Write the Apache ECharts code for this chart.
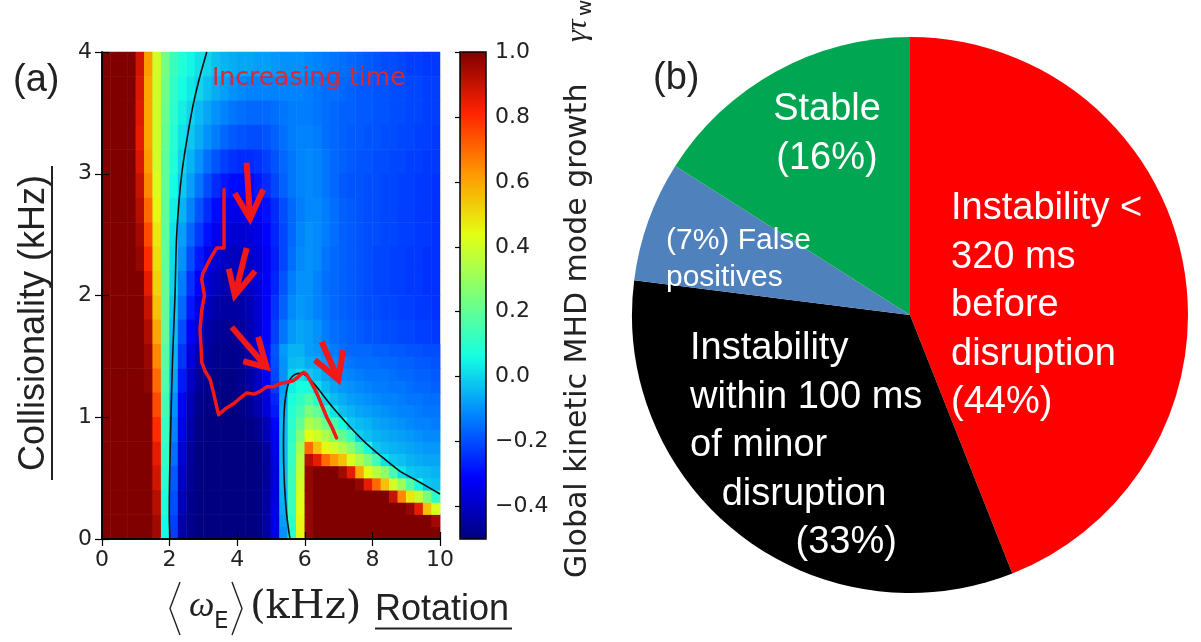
<!DOCTYPE html>
<html><head><meta charset="utf-8">
<script src="https://cdn.jsdelivr.net/npm/echarts@6/dist/echarts.min.js"></script>
<style>html,body{margin:0;padding:0;background:#fff}#c{width:1201px;height:642px}</style>
</head><body><div id="c"></div>
<script>
// ---------- Panel (a): growth-rate map ----------
const xCenters = [0.125,0.375,0.625,0.875,1.125,1.375,1.625,1.875,2.125,2.375,2.625,2.875,3.125,3.375,3.625,3.875,4.125,4.375,4.625,4.875,5.125,5.375,5.625,5.875,6.125,6.375,6.625,6.875,7.125,7.375,7.625,7.875,8.125,8.375,8.625,8.875,9.125,9.375,9.625,9.875];
const yCenters = [0.1,0.3,0.5,0.7,0.9,1.1,1.3,1.5,1.7,1.9,2.1,2.3,2.5,2.7,2.9,3.1,3.3,3.5,3.7,3.9];
// coarse map, rows listed from the top (y = 3.9) to the bottom (y = 0.1)
const gammaRows = [
 [1,1,1,1,.88,.62,.4,.24,.13,.08, .05,.02,0,-.03,-.05,-.06,-.07,-.07,-.08,-.08, -.09,-.1,-.1,-.1,-.11,-.12,-.13,-.14,-.15,-.16, -.17,-.18,-.19,-.2,-.2,-.21,-.22,-.22,-.23,-.23],
 [1,1,1,1,.87,.6,.4,.23,.11,.06, .03,0,-.03,-.06,-.08,-.1,-.11,-.12,-.12,-.12, -.12,-.12,-.12,-.12,-.13,-.14,-.15,-.15,-.16,-.17, -.18,-.18,-.19,-.19,-.2,-.2,-.21,-.21,-.22,-.22],
 [1,1,1,1,.86,.6,.4,.22,.1,.04, 0,-.04,-.07,-.1,-.12,-.14,-.15,-.16,-.16,-.16, -.15,-.14,-.13,-.13,-.13,-.14,-.15,-.16,-.17,-.17, -.18,-.18,-.19,-.19,-.2,-.2,-.21,-.21,-.22,-.22],
 [1,1,1,1,.85,.6,.4,.21,.09,.02, -.02,-.06,-.1,-.13,-.16,-.18,-.19,-.2,-.2,-.19, -.17,-.15,-.13,-.12,-.12,-.13,-.15,-.16,-.17,-.18, -.18,-.19,-.19,-.2,-.2,-.21,-.21,-.22,-.22,-.23],
 [1,1,1,1,.87,.62,.4,.2,.08,0, -.05,-.1,-.15,-.19,-.22,-.24,-.25,-.25,-.24,-.22, -.19,-.16,-.14,-.12,-.11,-.12,-.14,-.16,-.17,-.18, -.19,-.19,-.2,-.2,-.21,-.21,-.22,-.22,-.23,-.23],
 [1,1,1,1,.9,.65,.42,.2,.06,-.02, -.08,-.14,-.2,-.25,-.28,-.3,-.3,-.3,-.28,-.25, -.21,-.17,-.14,-.12,-.11,-.12,-.14,-.16,-.18,-.19, -.19,-.2,-.2,-.21,-.21,-.22,-.22,-.23,-.23,-.24],
 [1,1,1,1,.92,.7,.45,.2,.04,-.05, -.12,-.19,-.25,-.3,-.33,-.35,-.35,-.34,-.32,-.29, -.25,-.2,-.16,-.13,-.11,-.11,-.13,-.15,-.17,-.18, -.19,-.2,-.2,-.21,-.21,-.22,-.22,-.23,-.23,-.24],
 [1,1,1,1,.95,.75,.48,.2,.02,-.08, -.16,-.23,-.29,-.34,-.37,-.38,-.38,-.37,-.35,-.31, -.26,-.21,-.16,-.12,-.1,-.11,-.13,-.15,-.17,-.18, -.19,-.2,-.2,-.21,-.21,-.22,-.22,-.23,-.23,-.24],
 [1,1,1,1,.97,.8,.5,.2,.01,-.1, -.2,-.28,-.34,-.38,-.4,-.41,-.41,-.4,-.37,-.33, -.27,-.21,-.15,-.11,-.1,-.11,-.14,-.16,-.17,-.18, -.19,-.2,-.21,-.21,-.22,-.22,-.23,-.23,-.24,-.24],
 [1,1,1,1,1,.85,.52,.2,0,-.13, -.24,-.32,-.38,-.41,-.43,-.43,-.42,-.4,-.37,-.32, -.26,-.19,-.13,-.1,-.1,-.12,-.15,-.16,-.17,-.18, -.19,-.2,-.21,-.21,-.22,-.22,-.23,-.23,-.24,-.24],
 [1,1,1,1,1,.9,.55,.2,-.02,-.16, -.28,-.36,-.41,-.44,-.45,-.45,-.44,-.42,-.38,-.32, -.24,-.17,-.11,-.09,-.1,-.12,-.14,-.16,-.17,-.18, -.19,-.2,-.2,-.21,-.21,-.22,-.22,-.23,-.23,-.24],
 [1,1,1,1,1,.93,.6,.2,-.04,-.2, -.32,-.4,-.44,-.46,-.47,-.47,-.46,-.43,-.38,-.31, -.22,-.14,-.09,-.07,-.08,-.1,-.13,-.15,-.16,-.17, -.18,-.19,-.19,-.2,-.2,-.21,-.21,-.22,-.22,-.23],
 [1,1,1,1,1,.96,.65,.18,-.05,-.24, -.36,-.43,-.46,-.48,-.48,-.48,-.47,-.44,-.38,-.3, -.2,-.11,-.05,-.03,-.04,-.07,-.1,-.12,-.14,-.15, -.16,-.17,-.18,-.18,-.19,-.19,-.2,-.2,-.21,-.21],
 [1,1,1,1,1,.98,.7,.17,-.07,-.28, -.4,-.46,-.48,-.49,-.49,-.49,-.48,-.45,-.4,-.33, -.22,-.08,.03,.06,.04,-.01,-.05,-.08,-.11,-.13, -.15,-.17,-.18,-.19,-.2,-.21,-.22,-.23,-.23,-.24],
 [1,1,1,1,1,1,.75,.15,-.1,-.32, -.43,-.48,-.49,-.5,-.5,-.5,-.49,-.47,-.43,-.37, -.27,-.04,.08,.12,.17,.15,.07,-.02,-.05,-.08, -.1,-.12,-.13,-.14,-.15,-.16,-.17,-.18,-.19,-.2],
 [1,1,1,1,1,1,.8,.13,-.12,-.35, -.45,-.49,-.5,-.5,-.5,-.5,-.5,-.49,-.47,-.42, -.32,-.03,.1,.22,.35,.34,.27,.2,.1,0, -.04,-.05,-.07,-.08,-.09,-.1,-.11,-.12,-.13,-.14],
 [1,1,1,1,1,1,.85,.12,-.15,-.38, -.46,-.5,-.5,-.5,-.5,-.5,-.5,-.5,-.49,-.46, -.35,-.05,.12,.35,.6,.7,.62,.5,.42,.33, .24,.15,.07,-.03,-.05,-.06,-.08,-.09,-.1,-.11],
 [1,1,1,1,1,1,.88,.1,-.18,-.4, -.47,-.5,-.5,-.5,-.5,-.5,-.5,-.5,-.49,-.46, -.36,-.07,.13,.4,.9,1,1,1,.99,.97, .88,.75,.5,.35,.25,.16,.03,-.02,-.04,-.06],
 [1,1,1,1,1,1,.92,.08,-.2,-.42, -.48,-.5,-.5,-.5,-.5,-.5,-.5,-.5,-.49,-.45, -.35,-.08,.12,.42,.92,1,1,1,1,1, 1,1,1,1,.97,.93,.85,.65,.42,.27],
 [1,1,1,1,1,1,.95,.06,-.22,-.44, -.48,-.5,-.5,-.5,-.5,-.5,-.5,-.5,-.49,-.45, -.35,-.1,.1,.45,.95,1,1,1,1,1, 1,1,1,1,1,1,1,1,1,.98]
];
// finer map of the unstable lobe, x 5–10 kHz, y 0–1.6 kHz; one column per entry, listed bottom (y = 0.05) to top (y = 1.55)
const fineX = [5.125,5.375,5.625,5.875,6.125,6.375,6.625,6.875,7.125,7.375,7.625,7.875,8.125,8.375,8.625,8.875,9.125,9.375,9.625,9.875];
const fineY = [0.05,0.15,0.25,0.35,0.45,0.55,0.65,0.75,0.85,0.95,1.05,1.15,1.25,1.35,1.45,1.55];
const fineCols = [
 [-.35,-.35,-.35,-.36,-.36,-.36,-.35,-.34,-.33,-.31,-.28,-.26,-.23,-.21,-.2,-.19],
 [-.1,-.08,-.06,-.05,-.04,-.04,-.04,-.04,-.04,-.04,-.05,-.07,-.09,-.1,-.1,-.09],
 [.1,.11,.12,.13,.13,.13,.12,.12,.11,.1,.09,.07,.04,-.01,-.04,-.05],
 [.45,.45,.43,.42,.4,.38,.36,.32,.26,.2,.15,.11,.07,.02,-.03,-.05],
 [.97,.97,.97,.97,.97,.97,.92,.7,.44,.34,.25,.16,.07,-.02,-.06,-.08],
 [1,1,1,1,1,1,.85,.55,.4,.3,.2,.11,.01,-.04,-.07,-.09],
 [1,1,1,1,1,1,.7,.45,.34,.22,.11,0,-.04,-.07,-.09,-.11],
 [1,1,1,1,1,1,.62,.4,.27,.15,.02,-.04,-.07,-.09,-.11,-.13],
 [1,1,1,1,1,.95,.55,.35,.21,.07,-.03,-.06,-.09,-.11,-.13,-.15],
 [1,1,1,1,1,.85,.42,.28,.12,-.02,-.05,-.08,-.1,-.12,-.14,-.16],
 [1,1,1,1,.97,.6,.34,.17,-.01,-.04,-.07,-.09,-.11,-.13,-.15,-.16],
 [1,1,1,1,.85,.44,.25,.06,-.03,-.05,-.08,-.1,-.12,-.14,-.15,-.16],
 [1,1,1,1,.7,.36,.14,-.02,-.05,-.07,-.09,-.11,-.13,-.14,-.15,-.17],
 [1,1,1,1,.55,.28,.02,-.04,-.06,-.08,-.1,-.12,-.13,-.14,-.16,-.17],
 [1,1,1,.9,.4,.15,-.02,-.05,-.07,-.09,-.11,-.12,-.14,-.15,-.16,-.18],
 [1,1,1,.65,.3,.02,-.03,-.06,-.08,-.1,-.12,-.13,-.14,-.16,-.17,-.18],
 [1,1,.97,.48,.17,-.02,-.05,-.07,-.09,-.11,-.12,-.14,-.15,-.16,-.17,-.19],
 [1,1,.85,.38,.05,-.03,-.06,-.08,-.1,-.12,-.13,-.14,-.16,-.17,-.18,-.19],
 [1,1,.55,.25,-.02,-.04,-.07,-.09,-.11,-.12,-.14,-.15,-.16,-.17,-.18,-.2],
 [1,.95,.42,.1,-.03,-.05,-.07,-.09,-.11,-.13,-.14,-.15,-.17,-.18,-.19,-.2]
];
// zero contours (kHz, kHz)
const contourLeft = [[2.01,0],[1.99,0.2],[2.0,0.5],[2.04,1.0],[2.09,1.5],[2.16,2.0],[2.21,2.5],[2.36,3.0],[2.65,3.5],[2.85,3.75],[3.1,4.0]];
const contourHump = [[5.56,0],[5.46,0.21],[5.39,0.5],[5.37,0.76],[5.39,1.05],[5.45,1.2],[5.56,1.31],[5.7,1.35],[5.86,1.36],[6.05,1.34],[6.35,1.25],[6.6,1.16],[6.83,1.08],[7.34,0.92],[7.8,0.79],[8.3,0.67],[8.8,0.56],[9.31,0.48],[9.94,0.38],[10,0.37]];
// discharge trajectory
const trajectory = [[3.61,2.87],[3.61,2.39],[3.39,2.39],[3.2,2.3],[2.98,2.18],[2.95,2.13],[3.03,2.0],[2.95,1.88],[2.9,1.72],[2.93,1.58],[2.95,1.45],[3.05,1.38],[3.2,1.31],[3.3,1.2],[3.39,1.09],[3.45,1.02],[3.65,1.07],[3.89,1.11],[4.1,1.16],[4.28,1.2],[4.5,1.19],[4.67,1.21],[4.87,1.25],[5.07,1.25],[5.3,1.28],[5.5,1.29],[5.66,1.3],[5.8,1.33],[5.96,1.37],[6.06,1.35],[6.16,1.3],[6.28,1.24],[6.4,1.17],[6.53,1.08],[6.65,1.0],[6.8,0.92],[6.94,0.83]];
// "increasing time" arrows
const arrowTails = [[4.28,3.09],[4.28,2.39],[3.84,1.74],[6.5,1.62]];
const arrowTips  = [[4.38,2.63],[3.93,2.0],[4.87,1.41],[6.99,1.31]];
const arrowArmsA = [[3.93,2.84],[3.75,2.22],[4.18,1.46],[6.3,1.47]];
const arrowArmsB = [[4.77,2.87],[4.53,2.2],[4.62,1.66],[7.14,1.55]];
const cbTicks = [-0.4,-0.2,0,0.2,0.4,0.6,0.8,1.0];
const cbRange = [-0.5, 1.0];

// ---------- Panel (b): pie ----------
const pieNames = ['Instability < 320 ms before disruption','Instability within 100 ms of minor disruption','False positives','Stable'];
const pieValues = [44, 33, 7, 16];
const pieLabelLines = [
  ['Instability <','320 ms','before','disruption','({p}%)'],
  ['Instability','within 100 ms','of minor','\u00a0\u00a0\u00a0disruption','\u00a0\u00a0\u00a0\u00a0\u00a0\u00a0\u00a0\u00a0\u00a0\u00a0({p}%)'],
  ['({p}%) False','positives'],
  ['Stable','({p}%)']
];

// ---------- styling / layout ----------
const jet = ['#000080','#0000ff','#0080ff','#15ffe2','#7cff79','#e4ff13','#ff9800','#ff2300','#800000'];
const pieColors = ['#ff0000','#000000','#4f81bd','#00a651'];
const pieLabelPos = [[951,306,'left'],[690,446,'left'],[666,259,'left'],[827,134,'center']];
const PL = {left:102, top:52, width:338, height:487};
const CB = {left:460, top:52, width:26, height:487};
const FINE = {left: PL.left + PL.width * 0.5, top: PL.top + PL.height * (1 - 1.6 / 4), width: PL.width * 0.5, height: PL.height * 1.6 / 4};
const SANS = "'Liberation Sans', Arial, sans-serif";
const DV = "'DejaVu Sans', sans-serif";

const heatData = [];
gammaRows.forEach((row, r) => row.forEach((v, c) => heatData.push([c, gammaRows.length - 1 - r, v])));
const fineData = [];
fineCols.forEach((col, c) => col.forEach((v, r) => fineData.push([c, r, v])));

const arrowPolys = [];
arrowTips.forEach((tip, i) => {
  arrowPolys.push({coords: [arrowTails[i], tip]});
  arrowPolys.push({coords: [arrowArmsA[i], tip, arrowArmsB[i]]});
});

const frameAxis = (extra) => Object.assign({
  type: 'value', gridIndex: 1, z: 10,
  axisLine: {show: true, lineStyle: {color: '#000', width: 1.5}},
  axisTick: {show: true, inside: true, length: 7, lineStyle: {color: '#000', width: 1.2}},
  splitLine: {show: false}
}, extra);

const chart = echarts.init(document.getElementById('c'), null, {renderer: 'canvas'});
chart.setOption({
  animation: false,
  backgroundColor: '#fff',
  grid: [
    Object.assign({containLabel: false}, PL),
    Object.assign({containLabel: false}, PL),
    Object.assign({containLabel: false}, CB),
    Object.assign({containLabel: false}, FINE)
  ],
  xAxis: [
    {type: 'category', gridIndex: 0, data: xCenters, show: false, boundaryGap: true},
    frameAxis({position: 'bottom', min: 0, max: 10, interval: 2,
      axisLabel: {show: true, margin: 10, fontFamily: DV, fontSize: 22, color: '#222', showMinLabel: true, showMaxLabel: true}}),
    frameAxis({position: 'top', min: 0, max: 10, interval: 2, axisLabel: {show: false}}),
    {type: 'value', gridIndex: 2, show: false, min: 0, max: 1},
    {type: 'category', gridIndex: 3, data: fineX, show: false, boundaryGap: true}
  ],
  yAxis: [
    {type: 'category', gridIndex: 0, data: yCenters, show: false, boundaryGap: true},
    frameAxis({position: 'left', min: 0, max: 4, interval: 1,
      axisLabel: {show: true, margin: 10, fontFamily: DV, fontSize: 22, color: '#222', showMinLabel: true, showMaxLabel: true}}),
    frameAxis({position: 'right', min: 0, max: 4, interval: 1, axisLabel: {show: false}}),
    {type: 'value', gridIndex: 2, position: 'right', min: cbRange[0], max: cbRange[1], z: 10,
      axisLine: {show: false}, splitLine: {show: false},
      axisTick: {show: true, inside: true, length: 5, customValues: cbTicks, lineStyle: {color: '#000', width: 1.2}},
      axisLabel: {show: true, margin: 9, customValues: cbTicks, fontFamily: DV, fontSize: 22, color: '#222',
        formatter: v => (v < 0 ? '\u2212' : '') + Math.abs(v).toFixed(1)}},
    {type: 'category', gridIndex: 3, data: fineY, show: false, boundaryGap: true}
  ],
  visualMap: {
    type: 'continuous', seriesIndex: [0, 1], min: cbRange[0], max: cbRange[1],
    calculable: false, hoverLink: false, realtime: false,
    left: CB.left, top: CB.top, itemWidth: CB.width, itemHeight: CB.height, padding: 0,
    inRange: {color: jet}
  },
  series: [
    {type: 'heatmap', xAxisIndex: 0, yAxisIndex: 0, data: heatData, silent: true, z: 1, progressive: 0,
      itemStyle: {borderWidth: 0}, emphasis: {disabled: true}},
    {type: 'heatmap', xAxisIndex: 4, yAxisIndex: 4, data: fineData, silent: true, z: 2, progressive: 0,
      itemStyle: {borderWidth: 0}, emphasis: {disabled: true}},
    {type: 'line', xAxisIndex: 1, yAxisIndex: 1, data: contourLeft, smooth: 0.3, showSymbol: false, silent: true, z: 4,
      lineStyle: {color: '#101010', width: 1.6}},
    {type: 'line', xAxisIndex: 1, yAxisIndex: 1, data: contourHump, smooth: 0.3, showSymbol: false, silent: true, z: 4,
      lineStyle: {color: '#101010', width: 1.6}},
    {type: 'line', xAxisIndex: 1, yAxisIndex: 1, data: trajectory, showSymbol: false, silent: true, z: 5,
      lineStyle: {color: '#f01818', width: 3.5, join: 'round', cap: 'round'}},
    {type: 'lines', coordinateSystem: 'cartesian2d', xAxisIndex: 1, yAxisIndex: 1, polyline: true, silent: true, z: 6,
      data: arrowPolys, lineStyle: {color: '#f01818', width: 6, opacity: 1, curveness: 0, join: 'miter', cap: 'butt'}},
    {type: 'pie', center: [910, 315], radius: 278, startAngle: 90, clockwise: true, silent: true,
      avoidLabelOverlap: false, labelLine: {show: false},
      data: pieNames.map((n, i) => ({name: n, value: pieValues[i], itemStyle: {color: pieColors[i]},
        label: i === 2 ? {fontSize: 30, lineHeight: 37} : {}})),
      label: {show: true, position: 'inside', color: '#fff', fontFamily: SANS, fontSize: 38, lineHeight: 48.5,
        formatter: p => pieLabelLines[p.dataIndex].map(s => s.replace('{p}', p.value)).join('\n')},
      labelLayout: p => ({x: pieLabelPos[p.dataIndex][0], y: pieLabelPos[p.dataIndex][1],
        align: pieLabelPos[p.dataIndex][2], verticalAlign: 'middle'})
    }
  ],
  graphic: {elements: [
    {type: 'rect', z: 100, shape: {x: CB.left, y: CB.top, width: CB.width, height: CB.height},
      style: {fill: null, stroke: '#000', lineWidth: 1.5}},
    {type: 'text', x: 13, y: 81, style: {text: '(a)', font: "38px 'Liberation Sans', Arial", fill: '#222', align: 'left', verticalAlign: 'middle'}},
    {type: 'text', x: 653, y: 79, style: {text: '(b)', font: "38px 'Liberation Sans', Arial", fill: '#222', align: 'left', verticalAlign: 'middle'}},
    {type: 'text', x: 212, y: 78, z: 50, style: {text: 'Increasing time', font: "25px 'DejaVu Sans'", fill: '#d42a36', align: 'left', verticalAlign: 'middle'}},
    {type: 'text', x: 34.5, y: 323, rotation: Math.PI / 2,
      style: {text: 'Collisionality (kHz)', font: "36px 'Liberation Sans', Arial", fill: '#222', align: 'center', verticalAlign: 'middle'}},
    {type: 'line', shape: {x1: 52, y1: 166, x2: 52, y2: 480}, style: {stroke: '#222', lineWidth: 2}},
    {type: 'group', x: 578, y: 578, rotation: Math.PI / 2, children: [
      {type: 'text', x: 0, y: 0, style: {text: 'Global kinetic MHD mode growth', font: "30px 'DejaVu Sans'", fill: '#222', align: 'left', verticalAlign: 'middle'}},
      {type: 'text', x: 536, y: 0, style: {text: '\u03b3\u03c4', font: "italic 30px 'Liberation Serif', serif", fill: '#222', align: 'left', verticalAlign: 'middle'}},
      {type: 'text', x: 562, y: 8, style: {text: 'w', font: "20px 'DejaVu Sans'", fill: '#222', align: 'left', verticalAlign: 'middle'}}
    ]},
    {type: 'polyline', shape: {points: [[180, 582], [170, 608.5], [180, 635]]}, style: {stroke: '#222', lineWidth: 1.4, fill: null}},
    {type: 'polyline', shape: {points: [[232, 582], [242, 608.5], [232, 635]]}, style: {stroke: '#222', lineWidth: 1.4, fill: null}},
    {type: 'text', x: 189, y: 607, style: {text: '\u03c9', font: "italic 36px 'Liberation Serif', serif", fill: '#222', align: 'left', verticalAlign: 'middle'}},
    {type: 'text', x: 214, y: 622, style: {text: 'E', font: "23px 'DejaVu Sans'", fill: '#222', align: 'left', verticalAlign: 'middle'}},
    {type: 'text', x: 250, y: 608, style: {text: '(kHz)', font: "40px 'DejaVu Serif', serif", fill: '#222', align: 'left', verticalAlign: 'middle'}},
    {type: 'text', x: 375, y: 610, style: {text: 'Rotation', font: "36px 'Liberation Sans', Arial", fill: '#222', align: 'left', verticalAlign: 'middle'}},
    {type: 'line', shape: {x1: 375, y1: 628.5, x2: 512, y2: 628.5}, style: {stroke: '#222', lineWidth: 2}}
  ]}
});
</script></body></html>
